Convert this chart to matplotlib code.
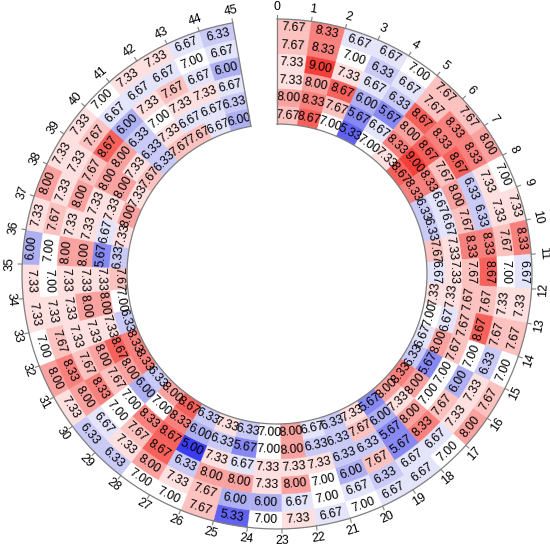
import numpy as np
import matplotlib
matplotlib.use("Agg")
import matplotlib.pyplot as plt
from matplotlib.colors import LinearSegmentedColormap, Normalize

plt.rcParams['font.family'] = ['Liberation Sans', 'DejaVu Sans']

# one list per ring, outer ring first, sector 0 to sector 44
ring1 = [7.67, 8.33, 6.67, 6.67, 7.00, 7.67, 7.67, 8.00, 7.00, 7.33, 8.33, 6.67, 7.33, 7.67, 7.00,
         7.67, 8.00, 7.00, 6.67, 6.67, 7.00, 6.67, 7.33, 7.00, 5.33, 7.67, 7.00, 7.00, 6.33, 6.33,
         7.33, 8.00, 7.00, 7.33, 7.33, 6.00, 7.33, 8.00, 7.33, 7.33, 7.00, 7.33, 7.33, 6.67, 6.33]
ring2 = [7.67, 8.33, 7.00, 6.33, 6.67, 7.67, 8.33, 8.33, 7.33, 7.33, 7.67, 7.00, 7.33, 7.67, 6.33,
         7.33, 7.33, 6.67, 6.67, 6.33, 6.67, 7.00, 6.67, 6.00, 6.00, 7.67, 7.33, 8.00, 7.33, 6.67,
         8.00, 8.33, 7.67, 7.33, 7.00, 7.00, 7.67, 7.33, 7.33, 7.67, 6.67, 6.67, 6.67, 7.00, 6.67]
ring3 = [7.33, 9.00, 7.33, 6.67, 6.33, 8.67, 8.33, 8.67, 6.33, 6.33, 8.33, 8.67, 7.67, 8.67, 7.00,
         6.00, 7.67, 8.33, 5.67, 7.67, 6.00, 7.00, 8.00, 7.33, 8.00, 8.00, 6.33, 8.67, 7.67, 7.00,
         8.33, 7.67, 7.33, 7.33, 7.33, 8.00, 7.33, 8.00, 7.67, 8.67, 6.00, 7.33, 7.67, 6.67, 6.00]
ring4 = [7.33, 8.00, 8.67, 6.00, 5.67, 8.00, 8.67, 7.67, 8.00, 7.67, 8.33, 7.67, 7.67, 7.67, 7.67,
         7.00, 7.00, 8.00, 5.67, 6.33, 6.33, 7.33, 7.33, 7.33, 6.67, 7.33, 5.00, 8.67, 8.33, 7.00,
         7.67, 8.00, 7.33, 8.00, 7.33, 8.00, 7.33, 7.33, 8.00, 8.00, 6.33, 7.00, 7.33, 7.33, 6.67]
ring5 = [8.00, 8.33, 7.67, 5.67, 6.67, 8.33, 9.00, 8.33, 6.67, 6.67, 7.33, 7.33, 7.33, 6.67, 8.00,
         5.67, 8.00, 7.33, 6.00, 7.67, 6.33, 6.33, 8.00, 7.00, 5.67, 6.33, 6.00, 8.33, 7.00, 6.00,
         8.00, 8.67, 7.33, 8.00, 7.33, 5.67, 6.67, 7.33, 8.00, 7.33, 6.33, 7.33, 6.67, 6.67, 6.33]
ring6 = [7.67, 8.67, 7.00, 5.33, 7.00, 7.33, 8.67, 8.33, 6.33, 6.33, 7.67, 6.67, 7.33, 7.00, 6.67,
         6.33, 8.33, 8.00, 5.67, 7.33, 6.33, 6.67, 8.00, 7.00, 6.33, 7.33, 6.33, 8.67, 8.00, 6.33,
         8.33, 8.33, 6.33, 7.00, 7.67, 6.33, 7.33, 8.00, 7.33, 7.67, 6.33, 7.67, 7.67, 6.67, 6.00]
rings = [ring1, ring2, ring3, ring4, ring5, ring6]
tick_labels = [str(i) for i in range(46)]

# blue - white - red, light in the middle like the original
cmap = LinearSegmentedColormap.from_list(
    "bwr_lab", [(0.0, "#3c3cf0"), (0.25, "#aeb0f2"), (0.5, "#ffffff"), (0.75, "#f9a3a0"), (1.0, "#f5403a")])
norm = Normalize(5, 9)

fig = plt.figure(figsize=(5.5, 5.5), dpi=100)
# centre of the circle sits a little off the middle of the figure
ax = fig.add_axes([2 / 550, 1 / 550, 1, 1], projection="polar")
ax.set_theta_zero_location("N")
ax.set_theta_direction(-1)
ax.set_ylim(0, 275)
ax.axis("off")

r_out = 255
r_in = 150
ring_w = (r_out - r_in) / 6
step = np.deg2rad(350 / 45)
n = len(ring1)


def upright(th):
    # rotation along the circle, flipped on the lower half so it stays readable
    deg = np.rad2deg(th)
    if 90 < deg < 270:
        return 180 - deg
    return -deg


for i, ring in enumerate(rings):
    bottom = r_out - (i + 1) * ring_w
    for j, v in enumerate(ring):
        th = (j + 0.5) * step
        c = cmap(norm(v))
        ax.bar(th, ring_w, width=step, bottom=bottom, color=c, edgecolor=c, linewidth=0.3, align="center")
        ax.text(th, bottom + ring_w / 2, "%.2f" % v, rotation=upright(th), rotation_mode="anchor",
                ha="center", va="center", fontsize=8.9, color="black", zorder=4)

# border of the track
arc = np.linspace(0, n * step, 300)
ax.plot(arc, np.full(300, r_out), color="#808080", lw=0.9, zorder=5)
ax.plot(arc, np.full(300, r_in), color="#808080", lw=0.9, zorder=5)
ax.plot([0, 0], [r_in, r_out], color="#808080", lw=0.9, zorder=5)
ax.plot([n * step, n * step], [r_in, r_out], color="#808080", lw=0.9, zorder=5)

# ticks and their labels sit on the sector edges
for k, lab in enumerate(tick_labels):
    th = k * step
    ax.plot([th, th], [r_out, r_out + 4], color="#808080", lw=0.8)
    ax.text(th, r_out + 12, lab, rotation=upright(th), rotation_mode="anchor",
            ha="center", va="center", fontsize=8.9, color="black")

fig.savefig("out.png", dpi=100)
